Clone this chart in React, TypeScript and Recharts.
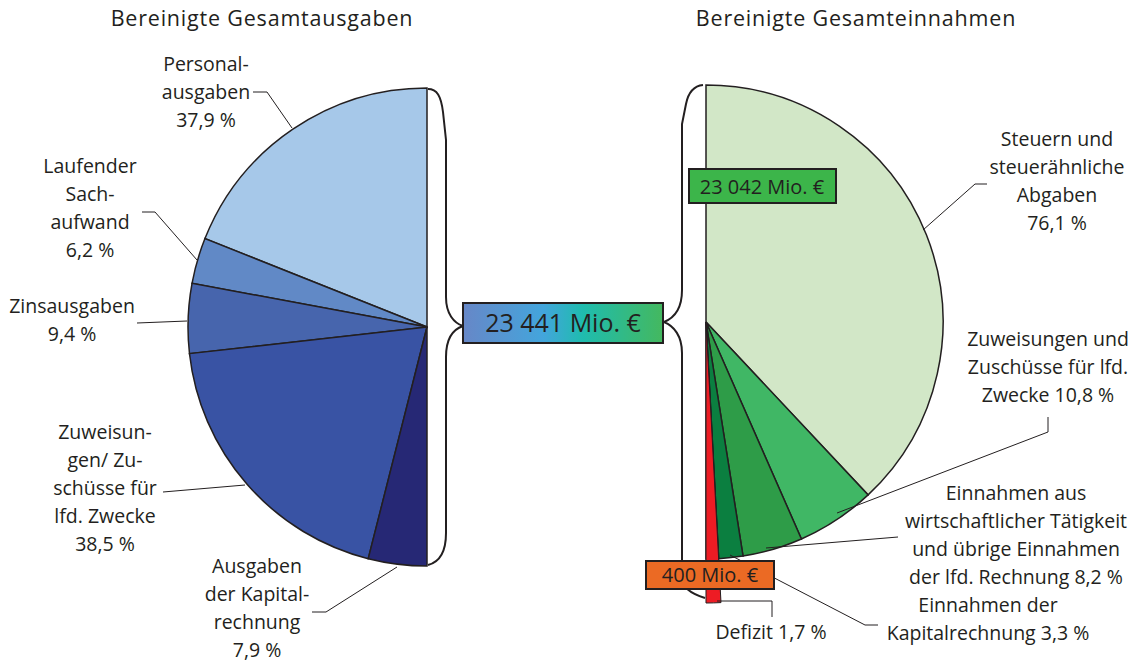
import { PieChart, Pie, Cell } from 'recharts'

// Bereinigte Gesamtausgaben (left half) / Gesamteinnahmen (right half), shares in %
const spendNames = ['Personalausgaben', 'Laufender Sachaufwand', 'Zinsausgaben', 'Zuweisungen/Zuschüsse für lfd. Zwecke', 'Ausgaben der Kapitalrechnung']
const spendShares = [37.9, 6.2, 9.4, 38.5, 7.9]
const spendColors = ['#a6c8e9', '#6189c6', '#4765ad', '#3953a4', '#262875']

const incomeNames = ['Steuern und steuerähnliche Abgaben', 'Zuweisungen und Zuschüsse für lfd. Zwecke', 'Einnahmen aus wirtschaftlicher Tätigkeit', 'Einnahmen der Kapitalrechnung', 'Defizit']
const incomeShares = [76.1, 10.8, 8.2, 3.3, 1.7]
const incomeColors = ['#d2e7c7', '#40b765', '#2e9c48', '#0b7f40', '#ed1c24']

const totalSpend = '23 441 Mio. €'
const totalIncome = '23 042 Mio. €'
const deficitAmount = '400 Mio. €'

const spendLabelLines = [
  ['Personal-', 'ausgaben'],
  ['Laufender', 'Sach-', 'aufwand'],
  ['Zinsausgaben'],
  ['Zuweisun-', 'gen/ Zu-', 'schüsse für', 'lfd. Zwecke'],
  ['Ausgaben', 'der Kapital-', 'rechnung'],
]
const incomeLabelLines = [
  ['Steuern und', 'steuerähnliche', 'Abgaben'],
  ['Zuweisungen und', 'Zuschüsse für lfd.', 'Zwecke'],
  ['Einnahmen aus', 'wirtschaftlicher Tätigkeit', 'und übrige Einnahmen', 'der lfd. Rechnung'],
  ['Einnahmen der', 'Kapitalrechnung'],
  ['Defizit'],
]

const spendData = spendNames.map((name, i) => ({ name, value: spendShares[i] }))
const incomeData = incomeNames.map((name, i) => ({ name, value: incomeShares[i] }))

const pct = (v: number) => `${v.toFixed(1).replace('.', ',')} %`

// label placement (text centre x, first baseline y, percent on own line or not)
const spendLabelPos = [
  { x: 206, y: 71, inline: false },
  { x: 90, y: 173, inline: false },
  { x: 72, y: 313, inline: false },
  { x: 105, y: 439, inline: false },
  { x: 257, y: 573, inline: false },
]
const incomeLabelPos = [
  { x: 1057, y: 146, inline: false },
  { x: 1048, y: 346, inline: true },
  { x: 1016, y: 500, inline: true },
  { x: 988, y: 612, inline: true },
  { x: 771, y: 639, inline: true },
]
const spendLeaders = [
  '253,92 267,92 292,128',
  '142,212 155,212 197,260',
  '137,323 187,321',
  '163,492 245,485',
  '312,612 326,612 397,567',
]
const incomeLeaders = [
  '987,184 975,184 923,230',
  '1048,417 1048,432 837,513',
  '898,537 766,548',
  '730,555 865,625 878,625',
  '717,601 772,601 772,617',
]

const INK = '#231f20'
const FONT = '"Open Sans", "Noto Sans", sans-serif'
const LH = 28

function Label({ lines, value, x, y, inline }: { lines: string[]; value: number; x: number; y: number; inline: boolean }) {
  const all = inline
    ? [...lines.slice(0, -1), `${lines[lines.length - 1]} ${pct(value)}`]
    : [...lines, pct(value)]
  return (
    <text x={x} y={y} textAnchor="middle" fontFamily={FONT} fontSize={19.5} fill={INK}>
      {all.map((t, i) => (
        <tspan key={i} x={x} y={y + i * LH}>{t}</tspan>
      ))}
    </text>
  )
}

export default function App() {
  return (
    <div style={{ position: 'absolute', left: 0, top: 0, width: 1134, height: 663, background: '#fff' }}>
      <PieChart width={1134} height={663} margin={{ top: 0, right: 0, bottom: 0, left: 0 }}>
        <Pie
          data={spendData}
          dataKey="value"
          nameKey="name"
          cx={427}
          cy={327}
          outerRadius={239}
          startAngle={90}
          endAngle={270}
          stroke={INK}
          strokeWidth={1.5}
          isAnimationActive={false}
        >
          {spendData.map((d, i) => <Cell key={d.name} fill={spendColors[i]} />)}
        </Pie>
        <Pie
          data={incomeData}
          dataKey="value"
          nameKey="name"
          cx={706}
          cy={322}
          outerRadius={237}
          startAngle={90}
          endAngle={-90}
          stroke={INK}
          strokeWidth={1.5}
          isAnimationActive={false}
        >
          {incomeData.map((d, i) => <Cell key={d.name} fill={incomeColors[i]} />)}
        </Pie>
        {/* Defizit sticks out of the half circle */}
        <Pie
          data={incomeData}
          dataKey="value"
          nameKey="name"
          cx={706}
          cy={322}
          outerRadius={281}
          startAngle={90}
          endAngle={-90}
          isAnimationActive={false}
        >
          {incomeData.map((d, i) => (
            <Cell
              key={d.name}
              fill={d.name === 'Defizit' ? incomeColors[i] : 'none'}
              stroke={d.name === 'Defizit' ? INK : 'none'}
              strokeWidth={1}
            />
          ))}
        </Pie>
      </PieChart>

      <svg width={1134} height={663} style={{ position: 'absolute', left: 0, top: 0, pointerEvents: 'none' }}>
        <defs>
          <linearGradient id="totalGrad" x1="0" y1="0" x2="1" y2="0">
            <stop offset="0%" stopColor="#6787c7" />
            <stop offset="40%" stopColor="#43a5dc" />
            <stop offset="60%" stopColor="#1fbcae" />
            <stop offset="100%" stopColor="#44b85f" />
          </linearGradient>
        </defs>

        <text x={262} y={26} textAnchor="middle" fontFamily={FONT} fontSize={21.5} letterSpacing={0.8} fill={INK}>
          Bereinigte Gesamtausgaben
        </text>
        <text x={856} y={26} textAnchor="middle" fontFamily={FONT} fontSize={21.5} letterSpacing={0.8} fill={INK}>
          Bereinigte Gesamteinnahmen
        </text>

        {/* braces */}
        <path d="M428,89 C437,89 441,96 443,112 L446,140 L446,297 C446,314 454,323 463,326 C454,329 446,338 446,357 L446,533 C446,552 440,562 428,565"
          fill="none" stroke={INK} strokeWidth={2} />
        <path d="M703,85 C693,86 688,94 686,104 L682,124 L682,290 C682,308 674,318 664,322 C674,326 682,336 682,353 L682,578 C682,588 692,594 705,598"
          fill="none" stroke={INK} strokeWidth={2} />

        {spendLeaders.map((p, i) => (
          <polyline key={`sl${i}`} points={p} fill="none" stroke={INK} strokeWidth={1} />
        ))}
        {incomeLeaders.map((p, i) => (
          <polyline key={`il${i}`} points={p} fill="none" stroke={INK} strokeWidth={1} />
        ))}

        {spendLabelLines.map((lines, i) => (
          <Label key={`s${i}`} lines={lines} value={spendShares[i]} {...spendLabelPos[i]} />
        ))}
        {incomeLabelLines.map((lines, i) => (
          <Label key={`i${i}`} lines={lines} value={incomeShares[i]} {...incomeLabelPos[i]} />
        ))}

        {/* totals */}
        <rect x={463} y={303} width={200} height={40} fill="url(#totalGrad)" stroke={INK} strokeWidth={2} />
        <text x={563} y={332} textAnchor="middle" fontFamily={FONT} fontSize={25} fill={INK}>{totalSpend}</text>

        <rect x={689} y={169} width={147} height={34} fill="#3cb54a" stroke={INK} strokeWidth={2} />
        <text x={762} y={194} textAnchor="middle" fontFamily={FONT} fontSize={20} fill={INK}>{totalIncome}</text>

        <rect x={646} y={561} width={128} height={28} fill="#eb6a24" stroke={INK} strokeWidth={2} />
        <text x={710} y={582} textAnchor="middle" fontFamily={FONT} fontSize={20} fill={INK}>{deficitAmount}</text>
      </svg>
    </div>
  )
}
